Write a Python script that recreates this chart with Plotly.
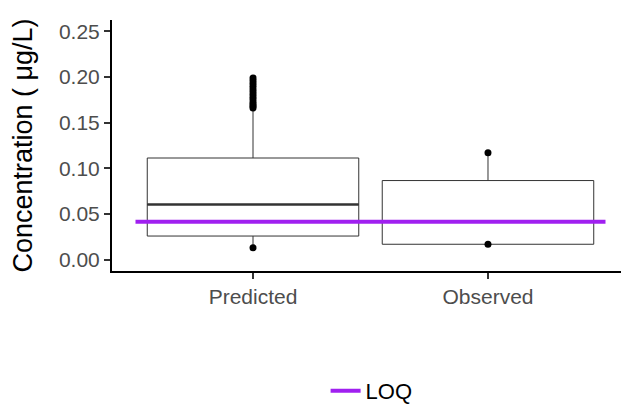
import plotly.graph_objects as go

# Box summary statistics (µg/L)
groups = ["Predicted", "Observed"]
group_pos = [1, 2]
q1 = [0.0258, 0.0168]
median = [0.0604, 0.0415]
q3 = [0.1113, 0.0866]
lower_whisker = [0.0129, 0.0168]
upper_whisker = [0.1630, 0.1170]

# Individual points drawn on top of the boxes
pred_points = [0.0129, 0.1660, 0.1680, 0.1700, 0.1720, 0.1750, 0.1780,
               0.1810, 0.1840, 0.1870, 0.1900, 0.1930, 0.1960, 0.1990]
obs_points = [0.0168, 0.1170]

loq = 0.0415
loq_span = [0.5, 2.5]
box_width = 0.9

fig = go.Figure()

for i, g in enumerate(groups):
    fig.add_trace(go.Box(
        x=[group_pos[i]], q1=[q1[i]], median=[median[i]], q3=[q3[i]],
        lowerfence=[lower_whisker[i]], upperfence=[upper_whisker[i]],
        width=box_width, fillcolor="white",
        line=dict(color="#333333", width=1), whiskerwidth=0,
        boxpoints=False, showlegend=False, name=g,
    ))
    # thicker median bar
    fig.add_trace(go.Scatter(
        x=[group_pos[i] - box_width / 2, group_pos[i] + box_width / 2],
        y=[median[i], median[i]], mode="lines",
        line=dict(color="#333333", width=2.5), showlegend=False,
        hoverinfo="skip",
    ))

fig.add_trace(go.Scatter(
    x=[group_pos[0]] * len(pred_points), y=pred_points, mode="markers",
    marker=dict(color="black", size=7), showlegend=False,
))
fig.add_trace(go.Scatter(
    x=[group_pos[1]] * len(obs_points), y=obs_points, mode="markers",
    marker=dict(color="black", size=7), showlegend=False,
))

fig.add_trace(go.Scatter(
    x=loq_span, y=[loq, loq], mode="lines", name="LOQ",
    line=dict(color="#A020F0", width=4),
))

fig.update_layout(
    width=621, height=412,
    margin=dict(l=112, r=0, t=20, b=137),
    paper_bgcolor="white", plot_bgcolor="white",
    font=dict(family="Liberation Sans, Arial, sans-serif", color="#4D4D4D"),
    legend=dict(orientation="h", x=0.51, xanchor="center", y=-0.48,
                yanchor="middle", font=dict(size=22, color="black"),
                itemwidth=30, tracegroupgap=0),
    showlegend=True,
)

fig.update_xaxes(
    range=[0.4, 2.566], tickvals=group_pos, ticktext=groups,
    showline=True, linecolor="black", linewidth=2, mirror=False,
    ticks="outside", ticklen=6, tickcolor="#333333", tickwidth=1.5,
    tickfont=dict(size=21, color="#4D4D4D"), showgrid=False, zeroline=False,
)
fig.update_yaxes(
    range=[-0.0125, 0.2625], tickvals=[0, 0.05, 0.10, 0.15, 0.20, 0.25],
    tickformat=".2f",
    showline=True, linecolor="black", linewidth=2,
    ticks="outside", ticklen=6, tickcolor="#333333", tickwidth=1.5,
    tickfont=dict(size=21, color="#4D4D4D"), showgrid=False, zeroline=False,
    title=dict(text="Concentration ( μg/L)", font=dict(size=27, color="black"),
               standoff=18),
    automargin=False,
)

fig.write_html("out.html")
